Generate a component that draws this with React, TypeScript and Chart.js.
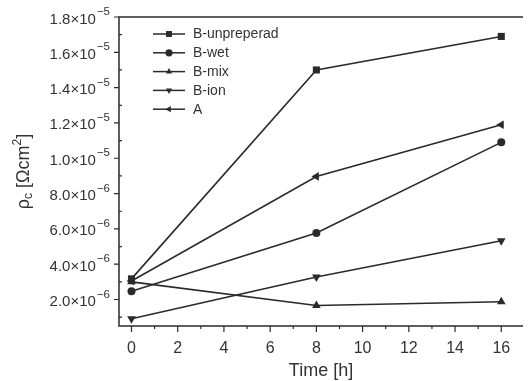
import { useEffect, useRef } from 'react';
import { Chart, registerables } from 'chart.js';

Chart.register(...registerables);

const times = [0, 8, 16];
const bUnpreperad = [3.17e-6, 1.5e-5, 1.69e-5];
const bWet = [2.47e-6, 5.77e-6, 1.09e-5];
const bMix = [3.0e-6, 1.66e-6, 1.87e-6];
const bIon = [0.91e-6, 3.28e-6, 5.33e-6];
const aSeries = [3.05e-6, 8.97e-6, 1.19e-5];
const seriesNames = ['B-unpreperad', 'B-wet', 'B-mix', 'B-ion', 'A'];

const xTickValues = [0, 2, 4, 6, 8, 10, 12, 14, 16];
const xTickLabels = ['0', '2', '4', '6', '8', '10', '12', '14', '16'];
const xMinorTicks = [1, 3, 5, 7, 9, 11, 13, 15];
const yTickValues = [2e-6, 4e-6, 6e-6, 8e-6, 1e-5, 1.2e-5, 1.4e-5, 1.6e-5, 1.8e-5];
const yTickMantissas = ['2.0', '4.0', '6.0', '8.0', '1.0', '1.2', '1.4', '1.6', '1.8'];
const yTickExponents = ['\u22126', '\u22126', '\u22126', '\u22126', '\u22125', '\u22125', '\u22125', '\u22125', '\u22125'];
const yMinorTicks = [1e-6, 3e-6, 5e-6, 7e-6, 9e-6, 1.1e-5, 1.3e-5, 1.5e-5, 1.7e-5];

const INK = '#2a2a2a';
const TEXT = '#333333';
const FONT = '"Liberation Sans", Arial, sans-serif';

const markers: { style: string; rotation: number; radius: number }[] = [
  { style: 'rect', rotation: 0, radius: 5 },
  { style: 'circle', rotation: 0, radius: 4 },
  { style: 'triangle', rotation: 0, radius: 5 },
  { style: 'triangle', rotation: 180, radius: 5 },
  { style: 'triangle', rotation: -90, radius: 5 },
];

const decorPlugin = {
  id: 'decor',
  afterDraw(chart: any) {
    const ctx = chart.ctx as CanvasRenderingContext2D;
    const { left, right, top, bottom } = chart.chartArea;
    const xs = chart.scales.x;
    const ys = chart.scales.y;
    ctx.save();
    ctx.strokeStyle = INK;
    ctx.lineWidth = 1.5;
    // frame (left, bottom, top)
    ctx.beginPath();
    ctx.moveTo(right, top);
    ctx.lineTo(left, top);
    ctx.lineTo(left, bottom);
    ctx.lineTo(right, bottom);
    ctx.stroke();
    // ticks
    ctx.lineWidth = 1.2;
    ctx.beginPath();
    xTickValues.forEach((v) => {
      const px = xs.getPixelForValue(v);
      ctx.moveTo(px, bottom);
      ctx.lineTo(px, bottom + 6);
    });
    xMinorTicks.forEach((v) => {
      const px = xs.getPixelForValue(v);
      ctx.moveTo(px, bottom);
      ctx.lineTo(px, bottom + 3);
    });
    yTickValues.forEach((v) => {
      const py = ys.getPixelForValue(v);
      ctx.moveTo(left - 5, py);
      ctx.lineTo(left, py);
    });
    yMinorTicks.forEach((v) => {
      const py = ys.getPixelForValue(v);
      ctx.moveTo(left, py);
      ctx.lineTo(left + 3, py);
    });
    ctx.stroke();

    ctx.fillStyle = TEXT;
    // x tick labels
    ctx.font = `16px ${FONT}`;
    ctx.textAlign = 'center';
    ctx.textBaseline = 'alphabetic';
    xTickValues.forEach((v, i) => {
      ctx.fillText(xTickLabels[i], xs.getPixelForValue(v), bottom + 27);
    });
    // y tick labels with superscript exponent
    const labelRight = left - 9;
    yTickValues.forEach((v, i) => {
      const py = ys.getPixelForValue(v);
      const mant = yTickMantissas[i] + '\u00d710';
      ctx.font = `11.5px ${FONT}`;
      const supW = ctx.measureText(yTickExponents[i]).width;
      ctx.font = `15px ${FONT}`;
      const mantW = ctx.measureText(mant).width;
      ctx.textAlign = 'left';
      const x0 = labelRight - supW - 1 - mantW;
      ctx.fillText(mant, x0, py + 6.5);
      ctx.font = `11.5px ${FONT}`;
      ctx.fillText(yTickExponents[i], x0 + mantW + 1, py - 2);
    });

    // x title
    ctx.font = `18px ${FONT}`;
    ctx.textAlign = 'center';
    ctx.fillText('Time [h]', (left + right) / 2, 376);

    // y title, rotated, with subscript and superscript
    const parts: { t: string; size: number; dy: number }[] = [
      { t: '\u03c1', size: 18, dy: 0 },
      { t: 'c', size: 12, dy: 3 },
      { t: ' [\u03a9cm', size: 18, dy: 0 },
      { t: '2', size: 12, dy: -8 },
      { t: ']', size: 18, dy: 0 },
    ];
    let total = 0;
    const widths = parts.map((p) => {
      ctx.font = `${p.size}px ${FONT}`;
      const w = ctx.measureText(p.t).width;
      total += w;
      return w;
    });
    ctx.save();
    ctx.translate(28.5, (top + bottom) / 2);
    ctx.rotate(-Math.PI / 2);
    ctx.textAlign = 'left';
    let cx = -total / 2;
    parts.forEach((p, i) => {
      ctx.font = `${p.size}px ${FONT}`;
      ctx.fillText(p.t, cx, p.dy);
      cx += widths[i];
    });
    ctx.restore();

    // legend
    ctx.font = `14px ${FONT}`;
    ctx.textAlign = 'left';
    ctx.textBaseline = 'middle';
    seriesNames.forEach((name, i) => {
      const y = 34 + i * 18.8;
      ctx.strokeStyle = INK;
      ctx.lineWidth = 1.5;
      ctx.beginPath();
      ctx.moveTo(153, y);
      ctx.lineTo(185, y);
      ctx.stroke();
      const m = markers[i];
      ctx.fillStyle = INK;
      (Chart as any).helpers?.drawPoint
        ? (Chart as any).helpers.drawPoint(ctx, { pointStyle: m.style, rotation: m.rotation, radius: 3.8, borderWidth: 0 }, 169, y)
        : null;
      ctx.fillStyle = TEXT;
      ctx.fillText(name, 193, y + 0.5);
    });
    ctx.restore();
  },
};

function drawMarker(ctx: CanvasRenderingContext2D, style: string, rotation: number, r: number, x: number, y: number) {
  ctx.save();
  ctx.translate(x, y);
  ctx.rotate((rotation * Math.PI) / 180);
  ctx.beginPath();
  if (style === 'rect') {
    const s = r * Math.SQRT1_2;
    ctx.rect(-s, -s, 2 * s, 2 * s);
  } else if (style === 'circle') {
    ctx.arc(0, 0, r, 0, Math.PI * 2);
  } else {
    ctx.moveTo(0, -r);
    ctx.lineTo(r * Math.cos(Math.PI / 6), r * 0.5);
    ctx.lineTo(-r * Math.cos(Math.PI / 6), r * 0.5);
    ctx.closePath();
  }
  ctx.fill();
  ctx.restore();
}

const legendMarkerPlugin = {
  id: 'legendMarkers',
  afterDraw(chart: any) {
    const ctx = chart.ctx as CanvasRenderingContext2D;
    ctx.save();
    ctx.fillStyle = INK;
    seriesNames.forEach((_, i) => {
      const y = 34 + i * 18.8;
      const m = markers[i];
      drawMarker(ctx, m.style, m.rotation, m.style === 'rect' ? 4.2 : 3.6, 169, y);
    });
    ctx.restore();
  },
};

export default function App() {
  const ref = useRef<HTMLCanvasElement>(null);
  useEffect(() => {
    if (!ref.current) return;
    const series = [bUnpreperad, bWet, bMix, bIon, aSeries];
    const chart = new Chart(ref.current, {
      type: 'line',
      data: {
        datasets: series.map((vals, i) => ({
          label: seriesNames[i],
          data: vals.map((v, j) => ({ x: times[j], y: v })),
          borderColor: INK,
          backgroundColor: INK,
          borderWidth: 1.6,
          pointStyle: markers[i].style as any,
          rotation: markers[i].rotation,
          pointRadius: markers[i].radius,
          pointBorderWidth: 0,
          pointBackgroundColor: INK,
          tension: 0,
        })),
      },
      options: {
        responsive: false,
        animation: false,
        devicePixelRatio: 1,
        layout: { padding: { top: 17, left: 0, right: 0, bottom: 0 } },
        plugins: { legend: { display: false }, tooltip: { enabled: false } },
        scales: {
          x: {
            type: 'linear',
            min: -0.54,
            max: 16.94,
            grid: { display: false },
            border: { display: false },
            ticks: { display: false },
            afterFit: (s: any) => {
              s.height = 55;
            },
          },
          y: {
            type: 'linear',
            min: 5e-7,
            max: 1.8e-5,
            grid: { display: false },
            border: { display: false },
            ticks: { display: false },
            afterFit: (s: any) => {
              s.width = 119;
            },
          },
        },
      },
      plugins: [decorPlugin, legendMarkerPlugin],
    });
    return () => chart.destroy();
  }, []);
  return (
    <div style={{ position: 'absolute', left: 0, top: 0, width: 528, height: 381, background: '#fff' }}>
      <canvas ref={ref} width={528} height={381} />
    </div>
  );
}
